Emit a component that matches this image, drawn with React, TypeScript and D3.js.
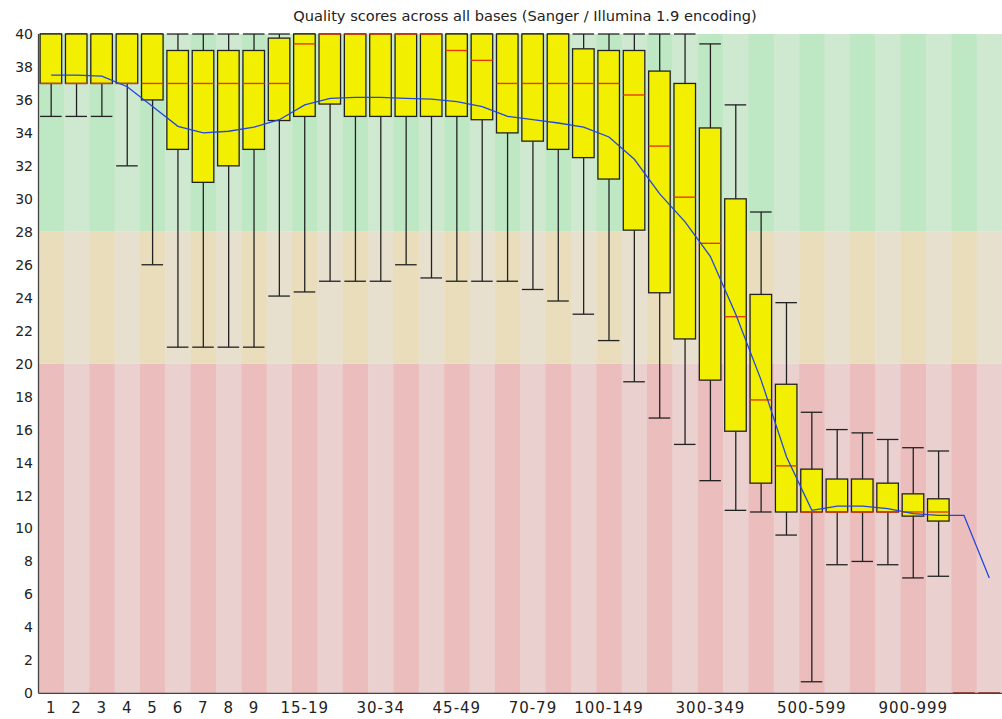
import React from "react";
import * as d3 from "d3";

// per-base quality, FastQC style
const categories = [
  "1", "2", "3", "4", "5", "6", "7", "8", "9",
  "10-14", "15-19", "20-24", "25-29", "30-34", "35-39", "40-44", "45-49",
  "50-59", "60-69", "70-79", "80-89", "90-99",
  "100-149", "150-199", "200-249", "250-299", "300-349", "350-399", "400-449", "450-499",
  "500-599", "600-699", "700-799", "800-899", "900-999",
  "1000-1999", "2000-2999", "3000-3999",
];

const shownLabels = [
  "1", "2", "3", "4", "5", "6", "7", "8", "9",
  "15-19", "30-34", "45-49", "70-79", "100-149", "300-349", "500-599", "900-999",
];

const upperWhisker = [
  40, 40, 40, 40, 40, 40, 40, 40, 40, 40, 40, 40, 40, 40, 40, 40, 40, 40, 40, 40, 40, 40,
  40, 40, 40, 40, 39.4, 35.7, 29.2, 23.7, 17.05, 16, 15.8, 15.4, 14.9, 14.7, 0, 0,
];
const upperQuartile = [
  40, 40, 40, 40, 40, 39, 39, 39, 39, 39.75, 40, 40, 40, 40, 40, 40, 40, 40, 40, 40, 40, 39.1,
  39, 39, 37.75, 37, 34.3, 30, 24.2, 18.75, 13.6, 13, 13, 12.75, 12.1, 11.8, 0, 0,
];
const median = [
  37, 37, 37, 37, 37, 37, 37, 37, 37, 37, 39.4, 40, 40, 40, 40, 40, 39, 38.4, 37, 37, 37, 37,
  37, 36.3, 33.2, 30.1, 27.3, 22.85, 17.8, 13.8, 11, 11, 11, 11, 11, 11, 0, 0,
];
const lowerQuartile = [
  37, 37, 37, 37, 36, 33, 31, 32, 33, 34.75, 35, 35.75, 35, 35, 35, 35, 35, 34.8, 34, 33.5, 33, 32.5,
  31.2, 28.1, 24.3, 21.5, 19, 15.9, 12.75, 11, 11, 11, 11, 11, 10.75, 10.45, 0, 0,
];
const lowerWhisker = [
  35, 35, 35, 32, 26, 21, 21, 21, 21, 24.1, 24.35, 25, 25, 25, 26, 25.2, 25, 25, 25, 24.5, 23.8, 23,
  21.4, 18.9, 16.7, 15.1, 12.9, 11.1, 11, 9.6, 0.7, 7.8, 8, 7.8, 7, 7.1, 0, 0,
];
const meanScore = [
  37.5, 37.5, 37.45, 36.8, 35.6, 34.4, 34.0, 34.1, 34.35, 34.8, 35.7, 36.1, 36.15, 36.15, 36.1, 36.05, 35.9, 35.6, 35.0, 34.8, 34.6, 34.35,
  33.75, 32.4, 30.3, 28.6, 26.5, 23.0, 19.0, 14.35, 11.1, 11.35, 11.35, 11.2, 10.9, 10.8, 10.8, 7.0,
];

const yTicks = d3.range(0, 41, 2);

const zones = [
  { from: 28, to: 40, light: "#cfe8d0", dark: "#bee8c3" },
  { from: 20, to: 28, light: "#e8e0cf", dark: "#eaddbb" },
  { from: 0, to: 20, light: "#ebd0d0", dark: "#ebbdbd" },
];

const App = () => {
  const width = 1002;
  const height = 719;
  const left = 38.5;
  const right = 1002;
  const top = 34;
  const bottom = 693.3;
  const font = "'DejaVu Sans', sans-serif";

  const x = d3.scaleBand().domain(categories).range([left, right]).padding(0);
  const y = d3.scaleLinear().domain([0, 40]).range([bottom, top]);
  const bw = x.bandwidth();

  const meanLine = d3
    .line<number>()
    .x((d, i) => x(categories[i])! + bw / 2)
    .y((d) => y(d));

  return (
    <svg width={width} height={height} style={{ position: "absolute", left: 0, top: 0, background: "#fff" }}>
      <rect x={0} y={0} width={width} height={height} fill="#fff" />

      {/* background zones, alternating stripes */}
      {zones.map((z) =>
        categories.map((c, i) => (
          <rect
            key={z.from + "-" + c}
            x={x(c)}
            y={y(z.to)}
            width={bw + 0.5}
            height={y(z.from) - y(z.to)}
            fill={i % 2 === 0 ? z.dark : z.light}
          />
        ))
      )}

      {/* boxes */}
      {categories.map((c, i) => {
        const cx = x(c)! + bw / 2;
        const bx = x(c)! + 1.6;
        const w = bw - 3.8;
        return (
          <g key={"box-" + c}>
            <line x1={cx} x2={cx} y1={y(upperWhisker[i])} y2={y(upperQuartile[i])} stroke="#222" strokeWidth={1.3} />
            <line x1={cx} x2={cx} y1={y(lowerQuartile[i])} y2={y(lowerWhisker[i])} stroke="#222" strokeWidth={1.3} />
            <line x1={bx} x2={bx + w} y1={y(upperWhisker[i])} y2={y(upperWhisker[i])} stroke="#222" strokeWidth={1.3} />
            <line x1={bx} x2={bx + w} y1={y(lowerWhisker[i])} y2={y(lowerWhisker[i])} stroke="#222" strokeWidth={1.3} />
            <rect
              x={bx}
              y={y(upperQuartile[i])}
              width={w}
              height={y(lowerQuartile[i]) - y(upperQuartile[i])}
              fill="#f2f000"
              stroke="#222"
              strokeWidth={1.3}
            />
            <line x1={bx} x2={bx + w} y1={y(median[i])} y2={y(median[i])} stroke="#e8380a" strokeWidth={1.4} />
          </g>
        );
      })}

      {/* mean line */}
      <path d={meanLine(meanScore)!} fill="none" stroke="#2246dd" strokeWidth={1.3} />

      {/* axes */}
      <line x1={left} x2={left} y1={top} y2={bottom} stroke="#444" strokeWidth={1.3} />
      <line x1={left} x2={right} y1={bottom} y2={bottom} stroke="#444" strokeWidth={1.3} />

      {yTicks.map((t) => (
        <text key={"yt" + t} x={33} y={y(t) + 5} textAnchor="end" fontFamily={font} fontSize={14} fill="#222">
          {t}
        </text>
      ))}

      {categories.map((c) =>
        shownLabels.includes(c) ? (
          <text
            key={"xt" + c}
            x={x(c)! + bw / 2}
            y={713}
            textAnchor="middle"
            fontFamily={font}
            fontSize={15}
            letterSpacing={1}
            fill="#222"
          >
            {c}
          </text>
        ) : null
      )}

      <text x={525} y={21} textAnchor="middle" fontFamily={font} fontSize={14.6} fill="#222">
        Quality scores across all bases (Sanger / Illumina 1.9 encoding)
      </text>
    </svg>
  );
};

export default App;
